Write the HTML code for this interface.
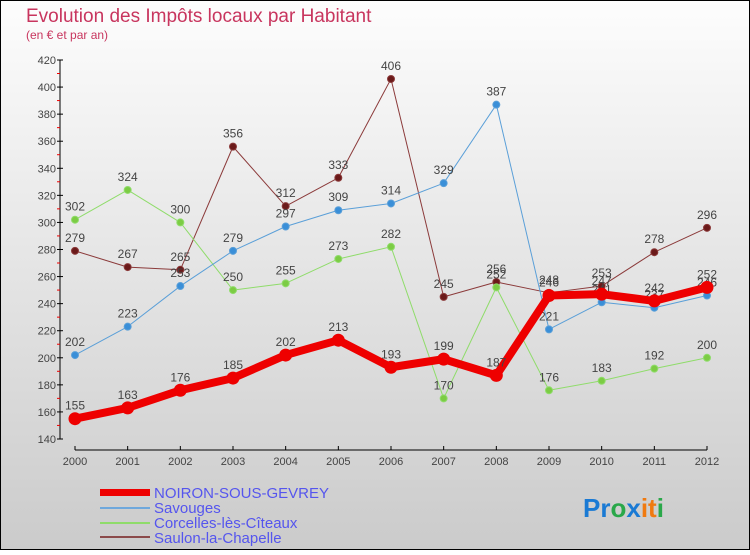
<!DOCTYPE html>
<html><head><meta charset="utf-8"><style>
body{margin:0;width:750px;height:550px;overflow:hidden;font-family:"Liberation Sans",sans-serif}
</style></head><body>
<svg width="750" height="550" xmlns="http://www.w3.org/2000/svg">
<defs><linearGradient id="bg" x1="0" y1="0" x2="0" y2="1"><stop offset="0" stop-color="#fdfdfd"/><stop offset="1" stop-color="#cbcbcb"/></linearGradient></defs>
<rect x="0.5" y="0.5" width="749" height="549" fill="url(#bg)" stroke="#000"/>
<text x="26" y="22" font-size="19" fill="#c8355e">Evolution des Impôts locaux par Habitant</text>
<text x="26" y="39" font-size="12" fill="#c8355e">(en € et par an)</text>
<g id="axes"></g><g id="series"></g>
<g font-size="15" fill="#5555ee">
<rect x="100" y="489" width="50" height="7" fill="#e00"/>
<text x="154" y="498">NOIRON-SOUS-GEVREY</text>
<rect x="100" y="507" width="50" height="2" fill="#6fa8dc"/>
<text x="154" y="513">Savouges</text>
<rect x="100" y="522" width="50" height="2" fill="#8fdc6a"/>
<text x="154" y="528">Corcelles-lès-Cîteaux</text>
<rect x="100" y="536" width="50" height="2" fill="#8b4a4a"/>
<text x="154" y="543">Saulon-la-Chapelle</text>
</g>
<text x="583" y="517" font-size="26" font-weight="bold"><tspan fill="#1a7ad4">Pr</tspan><tspan fill="#2aa84a">o</tspan><tspan fill="#1a7ad4">x</tspan><tspan fill="#f07a10">it</tspan><tspan fill="#2aa84a">i</tspan></text>
</svg>
<script>
const years=[2000,2001,2002,2003,2004,2005,2006,2007,2008,2009,2010,2011,2012];
const yTicks=[140,160,180,200,220,240,260,280,300,320,340,360,380,400,420];
const noiron=[155,163,176,185,202,213,193,199,187,246,247,242,252];
const savouges=[202,223,253,279,297,309,314,329,387,221,241,237,246];
const corcelles=[302,324,300,250,255,273,282,170,252,176,183,192,200];
const saulon=[279,267,265,356,312,333,406,245,256,248,253,278,296];
const NS="http://www.w3.org/2000/svg";
const xs=i=>75+i*(632/12);
const ys=v=>439-(v-140)*(379/280);
function mk(t,a,p){const e=document.createElementNS(NS,t);for(const k in a)e.setAttribute(k,a[k]);p.appendChild(e);return e;}
const ax=document.getElementById('axes'),sg=document.getElementById('series');
const yl=mk('line',{x1:60,y1:60,x2:60,y2:439,stroke:'#000'},ax);


yTicks.forEach((v,k)=>{const y=ys(v);
 mk('line',{x1:57,y1:y,x2:63,y2:y,stroke:'#000'},ax);
 if(k>0) mk('line',{x1:57,y1:y+13.5,x2:60,y2:y+13.5,stroke:'#e00'},ax);
 const t=mk('text',{x:56,y:y+4,'font-size':11,fill:'#444','text-anchor':'end'},ax);t.textContent=v;
 
 });
const xl=mk('line',{x1:75,y1:450,x2:707,y2:450,stroke:'#000'},ax);


years.forEach((yr,i)=>{const x=xs(i);mk('line',{x1:x,y1:446,x2:x,y2:450,stroke:'#000'},ax);
 const t=mk('text',{x:x,y:465,'font-size':11,fill:'#444','text-anchor':'middle'},ax);t.textContent=yr;
 
 });
function series(d,col,w,r,name,pc){
 const g=mk('g',{},sg);
 
 
 mk('polyline',{points:d.map((v,i)=>xs(i)+','+ys(v)).join(' '),fill:'none',stroke:col,'stroke-width':w,'stroke-linejoin':'round'},g);
 d.forEach((v,i)=>{const c=mk('circle',{cx:xs(i),cy:ys(v),r:r,fill:pc,stroke:col,'stroke-width':1},g);
  
  
  const t=mk('text',{x:xs(i),y:ys(v)-9,'font-size':12,fill:'#444','text-anchor':'middle'},g);t.textContent=v;
  
  });
}
series(saulon,'#8b3a3a',1,3.5,'saulon','#6b1a1a');
series(corcelles,'#8fdc6a',1,3.5,'corcelles','#7ccc44');
series(savouges,'#5a9fd8',1,3.5,'savouges','#3a8fd8');
series(noiron,'#e00',8,6,'noiron','#e00');
</script>
</body></html>
